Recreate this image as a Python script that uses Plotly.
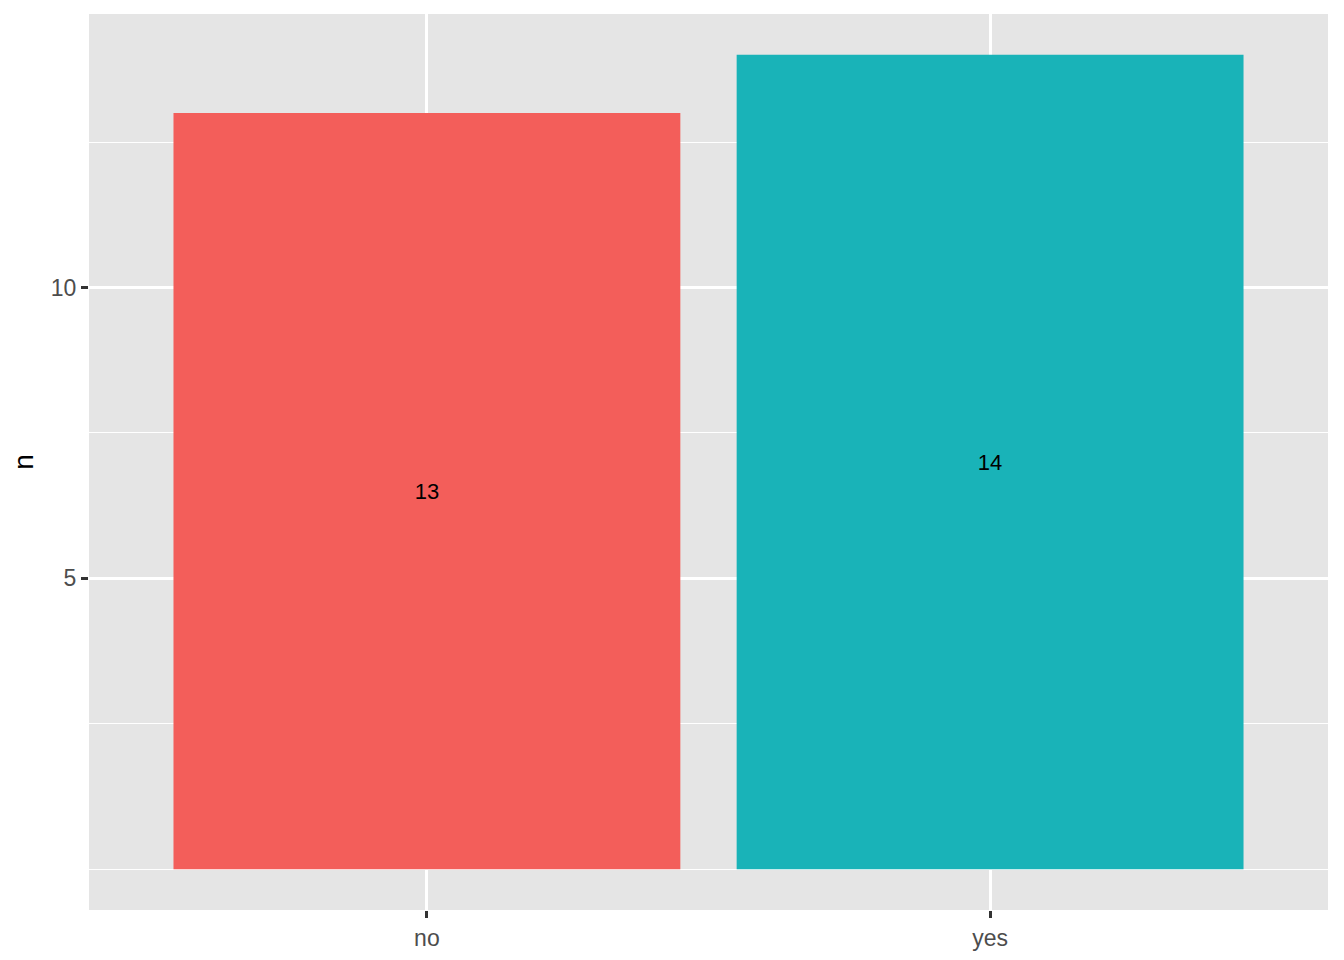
import plotly.graph_objects as go

# Data
answers = ["no", "yes"]
counts = [13, 14]
bar_colors = ["#F35E5A", "#19B3B8"]

PANEL_BG = "#E5E5E5"
TICK_GREY = "#4D4D4D"
FONT = "Liberation Sans, Arial, sans-serif"

fig = go.Figure()

fig.add_trace(go.Bar(
    x=answers,
    y=counts,
    width=0.9,
    marker=dict(color=bar_colors, line=dict(width=0)),
    text=[str(c) for c in counts],
    textposition="inside",
    insidetextanchor="middle",
    textangle=0,
    textfont=dict(family=FONT, size=22, color="black"),
    showlegend=False,
))

n_max = max(counts)
pad = 0.05 * n_max

# the page body adds an 8px offset, so margins are trimmed to compensate
fig.update_layout(
    width=1328,
    height=944,
    paper_bgcolor="white",
    plot_bgcolor=PANEL_BG,
    margin=dict(l=81, r=8, t=6, b=42, autoexpand=False),
    font=dict(family=FONT, size=23, color=TICK_GREY),
    uniformtext=dict(mode=False),
    xaxis=dict(
        type="category",
        range=[-0.6, 1.6],
        automargin=False,
        showgrid=True,
        gridcolor="white",
        gridwidth=2.5,
        zeroline=False,
        ticks="outside",
        ticklen=7,
        tickwidth=2.5,
        tickcolor="#333333",
        tickfont=dict(size=23, color=TICK_GREY),
    ),
    yaxis=dict(
        range=[-pad, n_max + pad],
        tickvals=[5, 10],
        automargin=False,
        showgrid=True,
        gridcolor="white",
        gridwidth=2.5,
        zeroline=False,
        ticks="outside",
        ticklen=7,
        tickwidth=2.5,
        tickcolor="#333333",
        tickfont=dict(size=23, color=TICK_GREY),
        title=dict(text="n", font=dict(size=28, color="black"), standoff=17),
        minor=dict(
            tickvals=[0, 2.5, 7.5, 12.5],
            showgrid=True,
            gridcolor="white",
            gridwidth=1.2,
            ticks="",
        ),
    ),
)

fig.write_html("out.html")
